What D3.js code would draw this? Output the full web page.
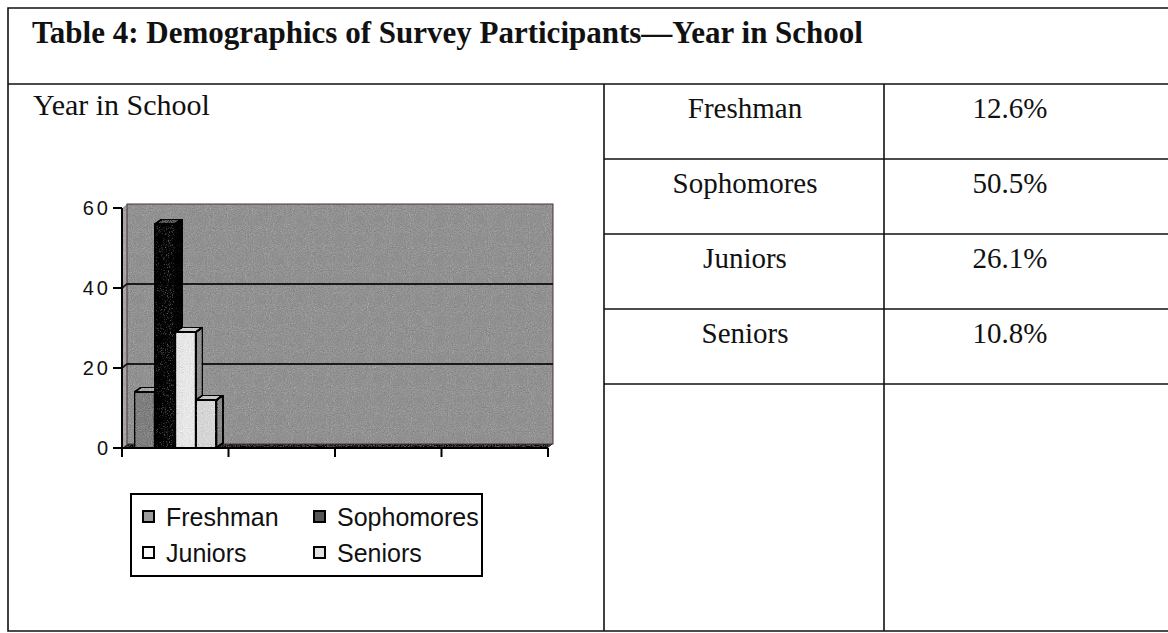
<!DOCTYPE html>
<html>
<head>
<meta charset="utf-8">
<script src="https://cdn.jsdelivr.net/npm/d3@7"></script>
<style>
  html, body { margin: 0; padding: 0; background: #fff; }
  svg { display: block; }
</style>
</head>
<body>
<svg id="page" width="1168" height="633"></svg>
<script>
// Survey participants by year in school (counts of respondents)
const series = ["Freshman", "Sophomores", "Juniors", "Seniors"];
const counts = [14, 56, 29, 12];
// Category slots on the chart's x axis (only the first one carries data)
const slots = ["Year", "s2", "s3", "s4"];
const yTicks = [0, 20, 40, 60];

const title = "Table 4: Demographics of Survey Participants\u2014Year in School";
const chartLabel = "Year in School";

const total = d3.sum(counts);
const pct = d3.format(".1%");

const svg = d3.select("#page");
const defs = svg.append("defs");

// speckled halftone look of the printed chart
const grain = defs.append("filter").attr("id", "grain")
  .attr("x", 0).attr("y", 0).attr("width", 1).attr("height", 1);
grain.append("feTurbulence").attr("type", "fractalNoise")
  .attr("baseFrequency", 0.95).attr("numOctaves", 2).attr("seed", 3).attr("result", "noise");
grain.append("feColorMatrix").attr("in", "noise").attr("type", "saturate").attr("values", 0).attr("result", "gnoise");
grain.append("feComposite").attr("in", "SourceGraphic").attr("in2", "gnoise")
  .attr("operator", "arithmetic").attr("k1", 0).attr("k2", 1).attr("k3", 0.5).attr("k4", -0.25).attr("result", "mix");
grain.append("feComposite").attr("in", "mix").attr("in2", "SourceAlpha").attr("operator", "in");

// ---------- table frame ----------
const serif = "'Liberation Serif', 'Times New Roman', serif";
const sans = "'Liberation Sans', Arial, sans-serif";
const frame = svg.append("g").attr("stroke", "#111").attr("stroke-width", 1.6).attr("fill", "none");
const T = { left: 8, top: 8, right: 1172, bottom: 631, titleBottom: 84, col1: 604, col2: 884 };
frame.append("path").attr("d", `M${T.right},${T.top}H${T.left}V${T.bottom}H${T.right}`);
frame.append("line").attr("x1", T.left).attr("x2", T.right).attr("y1", T.titleBottom).attr("y2", T.titleBottom);
frame.append("line").attr("x1", T.col1).attr("x2", T.col1).attr("y1", T.titleBottom).attr("y2", T.bottom);
frame.append("line").attr("x1", T.col2).attr("x2", T.col2).attr("y1", T.titleBottom).attr("y2", T.bottom);

svg.append("text").attr("x", 32).attr("y", 43)
  .attr("font-family", serif).attr("font-weight", "bold").attr("font-size", 31)
  .attr("fill", "#111").text(title);

svg.append("text").attr("x", 33).attr("y", 115)
  .attr("font-family", serif).attr("font-size", 30).attr("fill", "#111").text(chartLabel);

// right-hand rows: category name and share of respondents
const rowH = 75;
const rows = svg.append("g");
series.forEach((s, i) => {
  const top = T.titleBottom + i * rowH;
  rows.append("line").attr("x1", T.col1).attr("x2", T.right)
    .attr("y1", top + rowH).attr("y2", top + rowH)
    .attr("stroke", "#111").attr("stroke-width", 1.6);
  rows.append("text").attr("x", 745).attr("y", top + 34)
    .attr("text-anchor", "middle").attr("font-family", serif).attr("font-size", 29)
    .attr("fill", "#111").text(s);
  rows.append("text").attr("x", 1010).attr("y", top + 34)
    .attr("text-anchor", "middle").attr("font-family", serif).attr("font-size", 29)
    .attr("fill", "#111").text(pct(counts[i] / total));
});

// ---------- 3-D column chart ----------
const plot = { x0: 122, x1: 548, y0: 448, y1: 208 };
const depth = { dx: 5, dy: -4 };     // wall offset
const barDepth = { dx: 7, dy: -5 };  // column depth

const y = d3.scaleLinear().domain([0, 60]).range([plot.y0, plot.y1]);
const x0 = d3.scaleBand().domain(slots).range([plot.x0, plot.x1]).padding(0);
const x1 = d3.scaleBand().domain(series).range([0, x0.bandwidth()]).paddingInner(0).paddingOuter(0.6);

const chart = svg.append("g");

// back wall, side wall and floor
const wallG = chart.append("g").attr("filter", "url(#grain)");
wallG.append("rect")
  .attr("x", plot.x0 + depth.dx).attr("y", y(60) + depth.dy)
  .attr("width", plot.x1 - plot.x0).attr("height", y(0) - y(60))
  .attr("fill", "#a8a8a8");
wallG.append("path")
  .attr("d", `M${plot.x0},${y(60)}L${plot.x0 + depth.dx},${y(60) + depth.dy}V${y(0) + depth.dy}L${plot.x0},${y(0)}Z`)
  .attr("fill", "#b8b8b8");
wallG.append("path")
  .attr("d", `M${plot.x0},${y(0)}L${plot.x0 + depth.dx},${y(0) + depth.dy}H${plot.x1 + depth.dx}L${plot.x1},${y(0)}Z`)
  .attr("fill", "#6a6a6a");

chart.append("rect")
  .attr("x", plot.x0 + depth.dx).attr("y", y(60) + depth.dy)
  .attr("width", plot.x1 - plot.x0).attr("height", y(0) - y(60))
  .attr("fill", "none").attr("stroke", "#4a3434").attr("stroke-width", 1);

// gridlines on the wall
chart.append("g").selectAll("path").data(yTicks.filter(v => v > 0 && v < 60)).join("path")
  .attr("d", v => `M${plot.x0},${y(v)}L${plot.x0 + depth.dx},${y(v) + depth.dy}H${plot.x1 + depth.dx}`)
  .attr("fill", "none").attr("stroke", "#1a1a1a").attr("stroke-width", 1.8);

// columns
const shades = {
  Freshman:   { front: "#9c9c9c", side: "#7a7a7a", top: "#bdbdbd" },
  Sophomores: { front: "#565656", side: "#3a3a3a", top: "#7c7c7c" },
  Juniors:    { front: "#f6f6f6", side: "#a8a8a8", top: "#e0e0e0" },
  Seniors:    { front: "#e6e6e6", side: "#a4a4a4", top: "#d6d6d6" }
};
const bars = series.map((s, i) => ({ s, v: counts[i] }));
const barG = chart.append("g").attr("stroke", "#000").attr("stroke-width", 1.8).attr("stroke-linejoin", "round");
bars.forEach(d => {
  const left = x0(slots[0]) + x1(d.s);
  const w = x1.bandwidth();
  const top = y(d.v), base = y(0);
  const g = barG.append("g").attr("filter", "url(#grain)");
  g.append("path")
    .attr("d", `M${left + w},${top}L${left + w + barDepth.dx},${top + barDepth.dy}V${base + barDepth.dy}L${left + w},${base}Z`)
    .attr("fill", shades[d.s].side);
  g.append("path")
    .attr("d", `M${left},${top}L${left + barDepth.dx},${top + barDepth.dy}H${left + w + barDepth.dx}L${left + w},${top}Z`)
    .attr("fill", shades[d.s].top);
  g.append("rect").attr("x", left).attr("y", top).attr("width", w).attr("height", base - top)
    .attr("fill", shades[d.s].front);
});

// axes
const axisG = chart.append("g").attr("stroke", "#000").attr("stroke-width", 2);
axisG.append("line").attr("x1", plot.x0).attr("x2", plot.x0).attr("y1", y(60)).attr("y2", y(0) + 8);
axisG.append("line").attr("x1", plot.x0).attr("x2", plot.x1).attr("y1", y(0)).attr("y2", y(0));
axisG.selectAll(".yt").data(yTicks).join("line").attr("class", "yt")
  .attr("x1", plot.x0 - 9).attr("x2", plot.x0).attr("y1", d => y(d)).attr("y2", d => y(d));
const xBounds = slots.map(c => x0(c)).concat([x0.range()[1]]);
axisG.selectAll(".xt").data(xBounds).join("line").attr("class", "xt")
  .attr("x1", d => d).attr("x2", d => d).attr("y1", y(0)).attr("y2", y(0) + 9);

chart.append("g").selectAll("text").data(yTicks).join("text")
  .attr("x", plot.x0 - 11).attr("y", d => y(d)).attr("dy", "0.36em")
  .attr("text-anchor", "end").attr("font-family", sans).attr("font-size", 20)
  .attr("letter-spacing", 3).attr("fill", "#111").text(d => d);

// legend
const L = { x: 131, y: 494, w: 351, h: 82 };
const leg = chart.append("g");
leg.append("rect").attr("x", L.x).attr("y", L.y).attr("width", L.w).attr("height", L.h)
  .attr("fill", "#fff").attr("stroke", "#000").attr("stroke-width", 2);
const legendFill = { Freshman: "#9c9c9c", Sophomores: "#555", Juniors: "#f8f8f8", Seniors: "#e2e2e2" };
series.forEach((s, i) => {
  const cx = L.x + (i % 2 === 0 ? 12 : 183);
  const cy = L.y + 23 + Math.floor(i / 2) * 36;
  leg.append("rect").attr("x", cx).attr("y", cy - 6).attr("width", 11).attr("height", 11)
    .attr("fill", legendFill[s]).attr("stroke", "#000").attr("stroke-width", 2);
  leg.append("text").attr("x", cx + 23).attr("y", cy).attr("dy", "0.36em")
    .attr("font-family", sans).attr("font-size", 25).attr("fill", "#111").text(s);
});
</script>
</body>
</html>
